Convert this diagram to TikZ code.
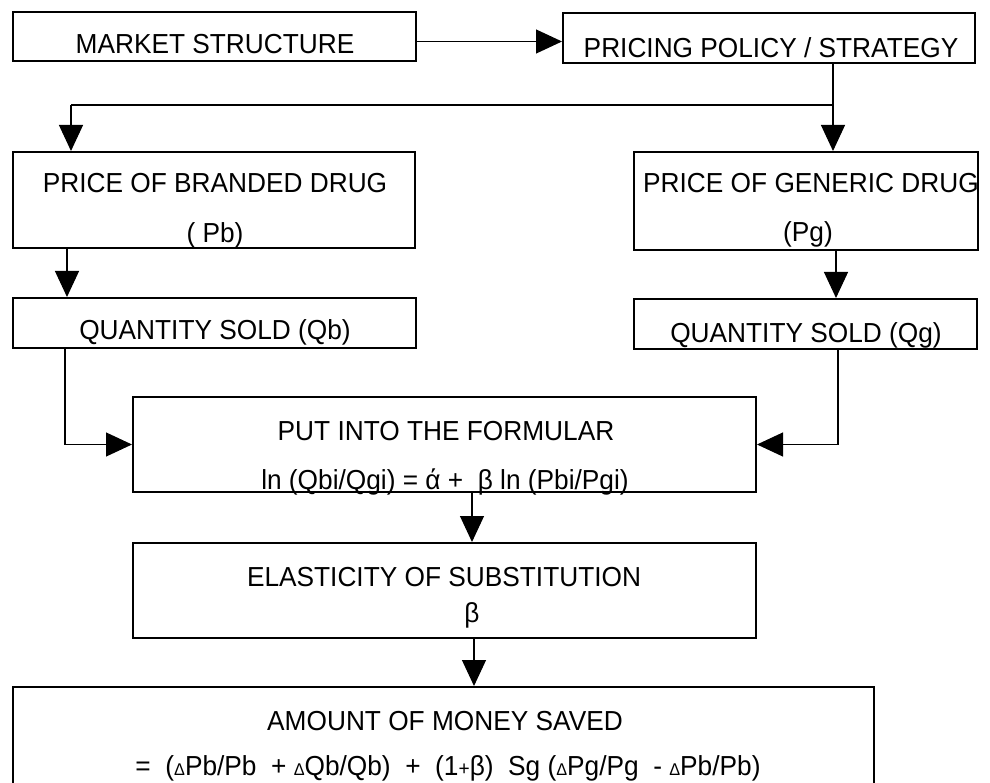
\documentclass[tikz,border=0pt]{standalone}
\usepackage{fontspec}
\setmainfont[FakeStretch=0.955]{Liberation Sans}
\usetikzlibrary{arrows.meta,calc}
\newcommand{\dlt}{{\fontsize{17}{17}\selectfont Δ}}
\begin{document}
\begin{tikzpicture}[x=1pt,y=-1pt,
  box/.style={draw, line width=2pt, rectangle, inner sep=0pt},
  lbl/.style={anchor=base, inner sep=0pt, font=\fontsize{27.5}{30}\selectfont},
  conn/.style={line width=1.1pt},
  arr/.style={conn, -{Triangle[length=26pt,width=24pt]}},
]
\useasboundingbox (0,0) rectangle (990,783);
\clip (0,0) rectangle (990,783);

% boxes
\node[box, minimum width=403pt, minimum height=49pt] (ms)  at (214.5,36.5) {};
\node[box, minimum width=412pt, minimum height=50pt] (pps) at (769,38) {};
\node[box, minimum width=402pt, minimum height=96pt] (pb)  at (214,200) {};
\node[box, minimum width=344pt, minimum height=98pt] (pg)  at (806,201) {};
\node[box, minimum width=403pt, minimum height=50pt] (qb)  at (214.5,323) {};
\node[box, minimum width=343pt, minimum height=50pt] (qg)  at (805.5,324) {};
\node[box, minimum width=623pt, minimum height=95pt] (fm)  at (444.5,444.5) {};
\node[box, minimum width=623pt, minimum height=95pt] (el)  at (444.5,590.5) {};
\node[box, minimum width=861pt, minimum height=113pt] (am) at (443.5,743.5) {};

% texts
\node[lbl] (mst) at (215,54) {MARKET STRUCTURE};
\node[lbl] (ppst) at (771,58) {PRICING POLICY / STRATEGY};
\node[lbl] (pbt1) at (215,193) {PRICE OF BRANDED DRUG};
\node[lbl] (pbt2) at (215,243) {( Pb)};
\node[lbl, anchor=base west] (pgt1) at (643,193) {PRICE OF GENERIC DRUG};
\node[lbl] (pgt2) at (808,242) {(Pg)};
\node[lbl] (qbt) at (215,340) {QUANTITY SOLD (Qb)};
\node[lbl] (qgt) at (806,343) {QUANTITY SOLD (Qg)};
\node[lbl] (fmt1) at (446,440) {PUT INTO THE FORMULAR};
\node[lbl] (fmt2) at (445,489) {ln (Qbi/Qgi) = ά + \ β ln (Pbi/Pgi)};
\node[lbl] (elt1) at (444,586) {ELASTICITY OF SUBSTITUTION};
\node[lbl] (elt2) at (472,622) {β};
\node[lbl] (amt1) at (445,730) {AMOUNT OF MONEY SAVED};
\node[lbl] (amt2) at (448,775) {=\ \ (\dlt Pb/Pb\ \ + \dlt Qb/Qb)\ \ +\ \ (1{\fontsize{20}{20}\selectfont +}β)\ \ Sg (\dlt Pg/Pg\ \ - \dlt Pb/Pb)};

% connectors
\draw[arr] ([yshift=-5pt]ms.east) -- ([yshift=-5pt]ms.east -| pps.west);
\coordinate (split) at (833,105);
\coordinate (lft) at (71,105);
\draw[conn] (pps.south -| split) -- (split) -- (lft);
\draw[arr] (lft) -- (lft |- pb.north);
\draw[arr] (split) -- (split |- pg.north);
\coordinate (pbx) at (67,0);
\coordinate (pgx) at (836,0);
\coordinate (qbx) at (65,0);
\coordinate (qgx) at (838,0);
\coordinate (fmx) at (472,0);
\coordinate (elx) at (474,0);
\draw[arr] (pb.south -| pbx) -- (qb.north -| pbx);
\draw[arr] (pg.south -| pgx) -- (qg.north -| pgx);
\draw[arr] (qb.south -| qbx) |- (fm.west);
\draw[arr] (qg.south -| qgx) |- (fm.east);
\draw[arr] (fm.south -| fmx) -- (el.north -| fmx);
\draw[arr] (el.south -| elx) -- (am.north -| elx);
\end{tikzpicture}
\end{document}
